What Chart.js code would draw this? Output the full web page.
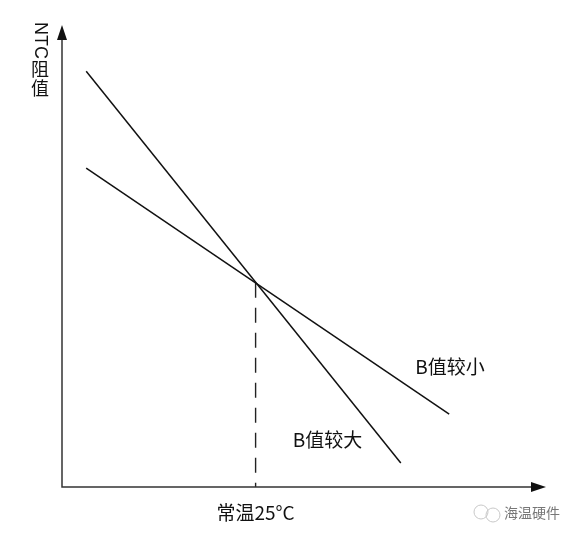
<!DOCTYPE html>
<html>
<head>
<meta charset="utf-8">
<script src="https://cdn.jsdelivr.net/npm/chart.js@4"></script>
<style>
  html, body { margin: 0; padding: 0; background: #fff; }
  canvas { display: block; }
</style>
</head>
<body>
<canvas id="ntcChart" width="575" height="539"></canvas>
<script>
// schematic values, axis units 0..100
const xRange = [0, 100];
const yRange = [0, 100];
const bSmallX = [5, 80];
const bSmallY = [69, 15.8];
const bLargeX = [5, 70];
const bLargeY = [90, 5.2];
const roomTemp = 40;
const roomValue = 44.2;
const seriesNames = ['B值较小', 'B值较大'];
const xAxisLabel = '常温25°C';
const yAxisLabel = ['NTC', '阻值'];

const cjk = '"Noto Sans CJK SC", "Noto Sans", sans-serif';

const toPoints = (xs, ys) => xs.map((x, i) => ({ x: x, y: ys[i] }));

const axesPlugin = {
  id: 'axesPlugin',
  afterDatasetsDraw(chart) {
    const ctx = chart.ctx;
    const area = chart.chartArea;
    const xs = chart.scales.x;
    const ys = chart.scales.y;
    ctx.save();

    // axes with arrows
    ctx.strokeStyle = '#333';
    ctx.fillStyle = '#111';
    ctx.lineWidth = 1.5;
    ctx.beginPath();
    ctx.moveTo(area.left, area.top + 12);
    ctx.lineTo(area.left, area.bottom);
    ctx.lineTo(area.right - 12, area.bottom);
    ctx.stroke();
    ctx.beginPath();
    ctx.moveTo(area.left, area.top);
    ctx.lineTo(area.left - 5, area.top + 15);
    ctx.lineTo(area.left + 5, area.top + 15);
    ctx.closePath();
    ctx.fill();
    ctx.beginPath();
    ctx.moveTo(area.right, area.bottom);
    ctx.lineTo(area.right - 15, area.bottom - 5);
    ctx.lineTo(area.right - 15, area.bottom + 5);
    ctx.closePath();
    ctx.fill();

    // x label under the room temperature
    ctx.fillStyle = '#111';
    ctx.font = '19px ' + cjk;
    ctx.textAlign = 'center';
    ctx.textBaseline = 'middle';
    ctx.fillText(xAxisLabel, xs.getPixelForValue(roomTemp), area.bottom + 26);

    // y label: NTC rotated, CJK upright
    const lx = area.left - 22;
    ctx.save();
    ctx.translate(lx, area.top - 3);
    ctx.rotate(Math.PI / 2);
    ctx.font = '18px "Liberation Sans", Arial, sans-serif';
    ctx.textAlign = 'left';
    ctx.textBaseline = 'middle';
    ctx.fillText(yAxisLabel[0], 0, 0);
    const w = ctx.measureText(yAxisLabel[0]).width;
    ctx.restore();
    ctx.font = '18px ' + cjk;
    ctx.textAlign = 'center';
    ctx.textBaseline = 'top';
    let yy = area.top - 3 + w + 1;
    for (const ch of yAxisLabel[1]) {
      ctx.fillText(ch, lx, yy);
      yy += 19;
    }

    // series labels near line ends
    ctx.font = '19px ' + cjk;
    ctx.textAlign = 'left';
    ctx.textBaseline = 'middle';
    const sEnd = { x: xs.getPixelForValue(bSmallX[1]), y: ys.getPixelForValue(bSmallY[1]) };
    const lEnd = { x: xs.getPixelForValue(bLargeX[1]), y: ys.getPixelForValue(bLargeY[1]) };
    ctx.fillText(seriesNames[0], sEnd.x - 34, sEnd.y - 47);
    ctx.fillText(seriesNames[1], lEnd.x - 108, lEnd.y - 23);

    // watermark
    ctx.strokeStyle = '#c8c8c8';
    ctx.lineWidth = 1;
    ctx.beginPath();
    ctx.arc(481, 512, 7, 0, Math.PI * 2);
    ctx.stroke();
    ctx.beginPath();
    ctx.arc(493, 515, 7, 0, Math.PI * 2);
    ctx.stroke();
    ctx.fillStyle = '#777';
    ctx.font = '14px ' + cjk;
    ctx.fillText('海温硬件', 504, 513);

    ctx.restore();
  }
};

new Chart(document.getElementById('ntcChart').getContext('2d'), {
  type: 'scatter',
  data: {
    datasets: [
      {
        label: seriesNames[1],
        data: toPoints(bLargeX, bLargeY),
        showLine: true,
        borderColor: '#111',
        borderWidth: 1.5,
        pointRadius: 0
      },
      {
        label: seriesNames[0],
        data: toPoints(bSmallX, bSmallY),
        showLine: true,
        borderColor: '#111',
        borderWidth: 1.5,
        pointRadius: 0
      },
      {
        label: 'room',
        data: toPoints([roomTemp, roomTemp], [roomValue, 0]),
        showLine: true,
        borderColor: '#222',
        borderWidth: 1.4,
        borderDash: [15, 10],
        pointRadius: 0
      }
    ]
  },
  options: {
    responsive: false,
    animation: false,
    layout: { padding: { left: 62, right: 29, top: 25, bottom: 52 } },
    scales: {
      x: { type: 'linear', min: xRange[0], max: xRange[1], display: false },
      y: { type: 'linear', min: yRange[0], max: yRange[1], display: false }
    },
    plugins: {
      legend: { display: false },
      tooltip: { enabled: false }
    }
  },
  plugins: [axesPlugin]
});
</script>
</body>
</html>
